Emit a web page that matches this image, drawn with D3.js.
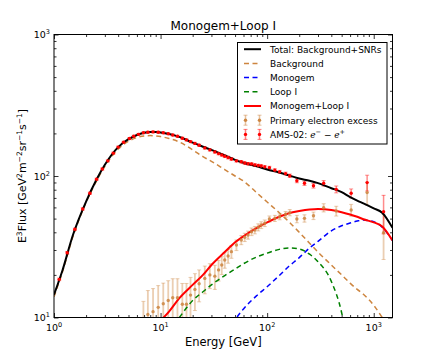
<!DOCTYPE html>
<html><head><meta charset="utf-8">
<script src="https://cdn.jsdelivr.net/npm/d3@7"></script>
<style>body{margin:0;background:#fff} svg{display:block} text{font-family:"DejaVu Sans",sans-serif;fill:#000}</style>
</head><body><svg id="c" width="436" height="354"></svg>
<script>
// ---- model curves ----
const curveEnergy = [1,1.2,1.5,2,2.5,3,4,5,6,7,8,9,10,12,15,20,25,30,40,50,60,80,100,130,160,200,250,300,400,500,600,700,800,1000,1200,1500];
const totalFlux   = [14.5,21.5,38,66,94,120,160,182,195,202,205,205,203,198,189,172,161,153,140,130,124,117,111,106,101,96,92.5,89,82,77,71,67,64,59,55,43];
const backgroundFlux = [14,21,37,65,92,117,155,176,187,192,193,192,190,184,174,153,137,127,111,100,92,76,65.5,55,47.5,40,33.5,29,23.5,20,17.5,15.8,14.6,12.2,10,7.5];
const monogemFlux = [null,null,null,null,null,null,null,null,null,null,null,null,null,null,null,null,null,null,7,9.6,11.5,14.3,16.5,19.8,23,26.5,31,34.5,41,44.5,46.5,48,48.8,47.5,43.5,35];
const loopIFlux   = [null,null,null,null,null,null,null,null,null,null,null,null,null,8,10,13.2,15.2,17,19.8,22,24,26.8,28.5,30.3,31,30.5,28,24.8,18,10.8,5,null,null,null,null,null];
const sumSnrFlux  = [null,null,null,null,null,null,null,null,null,null,null,null,9.5,11,13.7,17,20,23.5,29,34,37.5,43,47,51.5,54.5,56.5,58,58.5,57.5,55.5,53.5,51.5,49.5,47,44,35];

// ---- data points ----
const dataEnergy = [1.12,1.33,1.57,1.86,2.17,2.51,2.84,3.2,3.6,4.0,4.5,5.1,5.6,6.2,6.9,7.6,8.5,9.5,10.6,11.8,13.0,14.4,16.0,17.5,19.1,21.0,23.0,26.0,29.0,32.3,35.0,37.5,40.0,43.0,46.2,51.5,57.2,61.6,66.2,71.4,76.7,82.5,88,95,105,118,131,149,163,190,224,272,339,445,614,867,1237];
const amsFlux = [18.6,28.7,42.0,58.5,75.5,94.8,112,128,145,160,173,184,191,197,202,204,205,204,202,199,195,191,185,180,175,170,165,158,153,148,144,141,138,135,132,128,126,123.5,122,121.6,119.7,118.5,117.8,116,114.6,110,107,104,100.4,92.6,88.8,85.3,88.8,80.5,75.5,89.8,56];
const amsErr  = [0.4,0.6,0.8,1.1,1.4,1.7,2,2.2,2.5,2.7,2.9,3,3,3,3,3,3,3,3,3,3,3,3,3,3,3,3,3,3,3,3,3,3,3,3,2.5,2.5,2.5,2.5,2.5,2.5,2.5,2.5,2.5,2.5,2.5,2.5,2.5,2.8,3,3,3.2,4,4.5,5.5,11.5,17];
const excessFlux = [null,null,null,null,null,null,null,null,null,null,null,null,null,null,8.5,10.5,11.0,11.8,12.5,13.2,13.8,13.8,12.4,12.4,14.4,15.8,17.3,18.9,20.0,19.6,21.7,23.5,25.5,27.2,29.2,32.5,35.3,36.9,38.3,40.4,41.5,43.4,45,46.4,49.7,50.2,51.5,53.6,55.1,49.7,50.2,52.4,59.7,56.6,57.5,76.3,39.7];
const excessErr  = [0,0,0,0,0,0,0,0,0,0,0,0,0,0,4.5,5,5,5,5,5,5,5,5,5,4.8,4.6,4.4,4.2,4,3.8,3.6,3.4,3.2,3,3,2.8,2.6,2.5,2.5,2.5,2.5,2.5,2.5,2.5,2.5,2.5,2.5,2.5,2.8,3,3,3.2,4,4.5,5.5,14,14];

// ---- axes ----
const xMajor = [1,10,100,1000], xMajorExp = ["0","1","2","3"];
const yMajor = [10,100,1000],  yMajorExp = ["1","2","3"];
const legendLabels = ["Total: Background+SNRs","Background","Monogem","Loop I","Monogem+Loop I","Primary electron excess","AMS-02: "];

const svg = d3.select("#c");
const L=54, R=392.5, T=34.5, B=317.5;
const x = d3.scaleLog().domain([1,1500]).range([L,R]);
const y = d3.scaleLog().domain([10,1000]).range([B,T]);

svg.append("clipPath").attr("id","clip").append("rect").attr("x",L).attr("y",T).attr("width",R-L).attr("height",B-T);
const plot = svg.append("g").attr("clip-path","url(#clip)");

const peru = "#cd853f";
function curve(vals){
  return d3.line().defined(d=>d[1]!=null).curve(d3.curveMonotoneX).x(d=>x(d[0])).y(d=>y(d[1]))(curveEnergy.map((e,i)=>[e,vals[i]]));
}
const series = [
  {v:backgroundFlux,c:peru,w:1.5,dash:"5,3.5"},
  {v:monogemFlux,c:"#0000ff",w:1.5,dash:"5,3.5"},
  {v:loopIFlux,c:"#008000",w:1.5,dash:"5,3.5"},
  {v:sumSnrFlux,c:"#ff0000",w:2,dash:null},
  {v:totalFlux,c:"#000",w:2,dash:null},
];

// error bars
function errbars(g, vals, errs, color, op, sw){
  dataEnergy.forEach((e,i)=>{
    const v=vals[i]; if(v==null) return;
    const lo=Math.max(v-errs[i],1), hi=v+errs[i];
    const X=x(e);
    g.append("line").attr("x1",X).attr("x2",X).attr("y1",y(lo)).attr("y2",y(hi)).attr("stroke",color).attr("stroke-opacity",op).attr("stroke-width",sw);
    [lo,hi].forEach(b=>g.append("line").attr("x1",X-2).attr("x2",X+2).attr("y1",y(b)).attr("y2",y(b)).attr("stroke",color).attr("stroke-opacity",op).attr("stroke-width",1));
  });
}
const gEx = plot.append("g"), gAms = plot.append("g");
errbars(gEx, excessFlux, excessErr, peru, 0.4, 1.8);
errbars(gAms, amsFlux, amsErr, "#ff0000", 0.45, 1.5);

series.forEach(s=>{
  plot.append("path").attr("d",curve(s.v)).attr("fill","none").attr("stroke",s.c).attr("stroke-width",s.w).attr("stroke-dasharray",s.dash);
});

dataEnergy.forEach((e,i)=>{
  if(excessFlux[i]!=null) plot.append("circle").attr("cx",x(e)).attr("cy",y(excessFlux[i])).attr("r",1.7).attr("fill",peru).attr("fill-opacity",0.85);
  plot.append("circle").attr("cx",x(e)).attr("cy",y(amsFlux[i])).attr("r",1.7).attr("fill","#ff0000");
});

// ticks
function minorTicks(lo,hi){const r=[];for(let d=lo;d<hi;d*=10)for(let k=1;k<10;k++){const v=d*k;r.push(v);}return r;}
const xMinor = minorTicks(1,1000).filter(v=>!xMajor.includes(v)).concat([2000]).filter(v=>v<=1500);
const yMinor = minorTicks(10,1000).filter(v=>!yMajor.includes(v));
const ax = svg.append("g");
function addAxis(axisFn, scale, vals, size, tr){
  ax.append("g").attr("transform",tr).call(axisFn(scale).tickValues(vals).tickSize(size).tickFormat("")).call(g=>{g.select(".domain").remove(); g.selectAll("line").attr("stroke","#000").attr("stroke-width",0.8);});
}
addAxis(d3.axisBottom,x,xMajor,-4.5,`translate(0,${B})`);
addAxis(d3.axisBottom,x,xMinor,-2.5,`translate(0,${B})`);
addAxis(d3.axisTop,x,xMajor,-4.5,`translate(0,${T})`);
addAxis(d3.axisTop,x,xMinor,-2.5,`translate(0,${T})`);
addAxis(d3.axisLeft,y,yMajor,-4.5,`translate(${L},0)`);
addAxis(d3.axisLeft,y,yMinor,-2.5,`translate(${L},0)`);
addAxis(d3.axisRight,y,yMajor,-4.5,`translate(${R},0)`);
addAxis(d3.axisRight,y,yMinor,-2.5,`translate(${R},0)`);
svg.append("rect").attr("x",L).attr("y",T).attr("width",R-L).attr("height",B-T).attr("fill","none").attr("stroke","#000").attr("stroke-width",1);

// tick labels
xMajor.forEach((v,i)=>{
  const t=svg.append("text").attr("x",x(v)).attr("y",B+13).attr("text-anchor","middle").attr("font-size",9.5);
  t.append("tspan").text("10");
  t.append("tspan").attr("font-size",6.5).attr("dy",-4).text(xMajorExp[i]);
});
yMajor.forEach((v,i)=>{
  const t=svg.append("text").attr("x",L-4).attr("y",y(v)+3.5).attr("text-anchor","end").attr("font-size",9.5);
  t.append("tspan").text("10");
  t.append("tspan").attr("font-size",6.5).attr("dy",-4).text(yMajorExp[i]);
});

// titles
svg.append("text").attr("x",(L+R)/2).attr("y",30).attr("text-anchor","middle").attr("font-size",12).text("Monogem+Loop I");
svg.append("text").attr("x",(L+R)/2).attr("y",346).attr("text-anchor","middle").attr("font-size",11.5).text("Energy [GeV]");
const yl = svg.append("text").attr("transform",`translate(26,${(T+B)/2}) rotate(-90)`).attr("text-anchor","middle").attr("font-size",11);
yl.append("tspan").text("E");
yl.append("tspan").attr("font-size",7.5).attr("dy",-4).text("3");
yl.append("tspan").attr("dy",4).text("Flux [GeV");
yl.append("tspan").attr("font-size",7.5).attr("dy",-4).text("2");
yl.append("tspan").attr("dy",4).text("m");
yl.append("tspan").attr("font-size",7.5).attr("dy",-4).text("−2");
yl.append("tspan").attr("dy",4).text("sr");
yl.append("tspan").attr("font-size",7.5).attr("dy",-4).text("−1");
yl.append("tspan").attr("dy",4).text("s");
yl.append("tspan").attr("font-size",7.5).attr("dy",-4).text("−1");
yl.append("tspan").attr("dy",4).text("]");

// legend
const lg = svg.append("g");
lg.append("rect").attr("x",237.5).attr("y",42.5).attr("width",149.5).attr("height",101.5).attr("fill","#fff").attr("stroke","#000").attr("stroke-width",1);
const rowY = i=>49.2+i*14.2;
const legSeries=[series[4],series[0],series[1],series[2],series[3]];
legSeries.forEach((s,i)=>{
  lg.append("line").attr("x1",244).attr("x2",261).attr("y1",rowY(i)).attr("y2",rowY(i)).attr("stroke",s.c).attr("stroke-width",s.w).attr("stroke-dasharray",s.dash);
});
[[peru,0.5],["#ff0000",0.5]].forEach((c,j)=>{
  const yy=rowY(5+j);
  [245.5,259.5].forEach(xx=>{
    lg.append("line").attr("x1",xx).attr("x2",xx).attr("y1",yy-5).attr("y2",yy+5).attr("stroke",c[0]).attr("stroke-opacity",c[1]).attr("stroke-width",1.5);
    [yy-5,yy+5].forEach(b=>lg.append("line").attr("x1",xx-2).attr("x2",xx+2).attr("y1",b).attr("y2",b).attr("stroke",c[0]).attr("stroke-opacity",c[1]));
    lg.append("circle").attr("cx",xx).attr("cy",yy).attr("r",1.7).attr("fill",c[0]);
  });
});
legendLabels.forEach((t,i)=>{
  const tx=lg.append("text").attr("x",270).attr("y",rowY(i)+3.3).attr("font-size",9).text(t);
  if(i===6){
    tx.append("tspan").attr("font-family","DejaVu Serif").attr("font-style","italic").text("e");
    tx.append("tspan").attr("font-size",6.5).attr("dy",-4).text("−");
    tx.append("tspan").attr("dy",4).text(" − ");
    tx.append("tspan").attr("font-family","DejaVu Serif").attr("font-style","italic").text("e");
    tx.append("tspan").attr("font-size",6.5).attr("dy",-4).text("+");
  }
});
</script></body></html>
